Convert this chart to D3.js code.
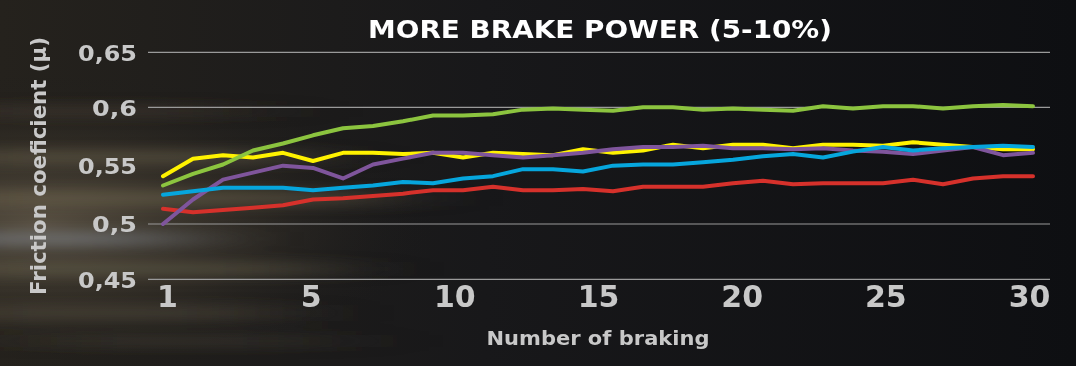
<!DOCTYPE html>
<html>
<head>
<meta charset="utf-8">
<script src="https://cdn.jsdelivr.net/npm/d3@7/dist/d3.min.js"></script>
<style>
  html, body { margin: 0; padding: 0; background: #121316; }
  svg { display: block; }
</style>
</head>
<body>
<svg id="chart" width="1076" height="366"></svg>
<script>
// ---------- data ----------
const brakings = d3.range(1, 31);
const xTickLabels = ["1", "5", "10", "15", "20", "25", "30"];
const yTicks = [0.45, 0.5, 0.55, 0.6, 0.65];
const yGridTicks = [0.45, 0.5, 0.6, 0.65];

const yellowSeries = [0.541, 0.556, 0.559, 0.557, 0.561, 0.554, 0.561, 0.561, 0.560, 0.561,
  0.557, 0.561, 0.560, 0.559, 0.564, 0.561, 0.563, 0.568, 0.565, 0.568,
  0.568, 0.565, 0.568, 0.568, 0.567, 0.570, 0.568, 0.566, 0.564, 0.564];
const greenSeries = [0.533, 0.543, 0.551, 0.563, 0.569, 0.576, 0.582, 0.584, 0.588, 0.593,
  0.593, 0.594, 0.598, 0.599, 0.598, 0.597, 0.600, 0.600, 0.598, 0.599,
  0.598, 0.597, 0.601, 0.599, 0.601, 0.601, 0.599, 0.601, 0.602, 0.601];
const blueSeries = [0.525, 0.528, 0.531, 0.531, 0.531, 0.529, 0.531, 0.533, 0.536, 0.535,
  0.539, 0.541, 0.547, 0.547, 0.545, 0.550, 0.551, 0.551, 0.553, 0.555,
  0.558, 0.560, 0.557, 0.562, 0.566, 0.563, 0.565, 0.566, 0.567, 0.566];
const purpleSeries = [0.500, 0.521, 0.538, 0.544, 0.550, 0.548, 0.539, 0.551, 0.556, 0.561,
  0.561, 0.559, 0.557, 0.559, 0.561, 0.564, 0.566, 0.566, 0.567, 0.565,
  0.565, 0.564, 0.565, 0.563, 0.562, 0.560, 0.563, 0.566, 0.559, 0.561];
const redSeries = [0.513, 0.510, 0.512, 0.514, 0.516, 0.521, 0.522, 0.524, 0.526, 0.529,
  0.529, 0.532, 0.529, 0.529, 0.530, 0.528, 0.532, 0.532, 0.532, 0.535,
  0.537, 0.534, 0.535, 0.535, 0.535, 0.538, 0.534, 0.539, 0.541, 0.541];

const seriesList = [
  { name: "red", values: redSeries, color: "#d6312b" },
  { name: "yellow", values: yellowSeries, color: "#fff200" },
  { name: "green", values: greenSeries, color: "#8cc43f" },
  { name: "purple", values: purpleSeries, color: "#7f559c" },
  { name: "blue", values: blueSeries, color: "#06a6dd" }
];

const titleText = "MORE BRAKE POWER (5-10%)";
const xTitle = "Number of braking";
const yTitle = "Friction coeficient (µ)";

// ---------- layout ----------
const W = 1076, H = 366;
const svg = d3.select("#chart");
const defs = svg.append("defs");

// background
const baseShade = defs.append("linearGradient").attr("id", "baseShade").attr("x1", 0).attr("x2", 1);
baseShade.append("stop").attr("offset", "0%").attr("stop-color", "#25221d");
baseShade.append("stop").attr("offset", "45%").attr("stop-color", "#18181a");
baseShade.append("stop").attr("offset", "100%").attr("stop-color", "#0e0f12");
svg.append("rect").attr("width", W).attr("height", H).attr("fill", "url(#baseShade)");

const glow = defs.append("radialGradient").attr("id", "glow")
  .attr("cx", 0.5).attr("cy", 0.5).attr("r", 0.5);
glow.append("stop").attr("offset", "0%").attr("stop-color", "#6b6150").attr("stop-opacity", 0.75);
glow.append("stop").attr("offset", "55%").attr("stop-color", "#3e382e").attr("stop-opacity", 0.45);
glow.append("stop").attr("offset", "100%").attr("stop-color", "#1a1a1a").attr("stop-opacity", 0);
svg.append("ellipse").attr("cx", 40).attr("cy", 225).attr("rx", 400).attr("ry", 150)
  .attr("fill", "url(#glow)");

const streakBlur = defs.append("filter").attr("id", "streak")
  .attr("x", "-50%").attr("y", "-50%").attr("width", "200%").attr("height", "200%");
streakBlur.append("feGaussianBlur").attr("stdDeviation", "55 6");

const streaks = svg.append("g").attr("filter", "url(#streak)");
[[ -60, 150, 360, 14, "#6f6550", 0.45 ], [ -60, 190, 440, 16, "#7a6e55", 0.4 ],
 [ -80, 232, 260, 14, "#8a92a0", 0.45 ], [ -60, 262, 380, 14, "#6c6350", 0.45 ],
 [ -60, 305, 330, 16, "#574f42", 0.45 ], [ 40, 335, 280, 12, "#4a4438", 0.4 ],
 [ -60, 105, 300, 12, "#4e473a", 0.4 ]]
  .forEach(s => streaks.append("rect").attr("x", s[0]).attr("y", s[1])
    .attr("width", s[2]).attr("height", s[3]).attr("fill", s[4]).attr("opacity", s[5]));

// ---------- scales ----------
const x = d3.scaleLinear().domain([1, 30]).range([163, 1033]);
const y = d3.scaleLinear().domain([0.45, 0.5, 0.6, 0.65]).range([279.3, 224, 107.3, 52.3]);
const xLabelPos = d3.scalePoint().domain(xTickLabels).range([167, 1029]);

const fmt = v => d3.format(".2~f")(v).replace(".", ",");
const fontFamily = "'DejaVu Sans', sans-serif";

// gridlines
svg.append("g").attr("class", "grid")
  .selectAll("line").data(yGridTicks).join("line")
  .attr("x1", 148).attr("x2", 1050)
  .attr("y1", d => y(d)).attr("y2", d => y(d))
  .attr("stroke", "#9a9a9a").attr("stroke-width", 1.2);

// y axis labels
const yAxis = d3.axisLeft(y).tickValues(yTicks).tickFormat(fmt).tickSize(0).tickPadding(0);
const yg = svg.append("g").attr("transform", "translate(137,0)").call(yAxis);
yg.select(".domain").remove();
yg.selectAll("text")
  .attr("fill", "#c8c8c8").attr("font-family", fontFamily).attr("font-weight", "bold")
  .attr("font-size", 22).attr("dy", "0.36em")
  .attr("textLength", d => String(fmt(d)).length === 3 ? 45 : 59)
  .attr("lengthAdjust", "spacingAndGlyphs");

// x axis labels
const xAxis = d3.axisBottom(xLabelPos).tickSize(0).tickPadding(0);
const xg = svg.append("g").attr("transform", "translate(0,307)").call(xAxis);
xg.select(".domain").remove();
xg.selectAll("text")
  .attr("fill", "#c8c8c8").attr("font-family", fontFamily).attr("font-weight", "bold")
  .attr("font-size", 30).attr("dy", 0).attr("y", 0);

// lines
const line = d3.line().x((d, i) => x(brakings[i])).y(d => y(d));
svg.append("g").selectAll("path").data(seriesList).join("path")
  .attr("d", d => line(d.values))
  .attr("fill", "none").attr("stroke", d => d.color)
  .attr("stroke-width", 4).attr("stroke-linejoin", "round").attr("stroke-linecap", "round");

// title
svg.append("text").attr("x", 600).attr("y", 38).attr("text-anchor", "middle")
  .attr("fill", "#ffffff").attr("font-family", fontFamily).attr("font-weight", "bold")
  .attr("font-size", 24).attr("textLength", 464).attr("lengthAdjust", "spacingAndGlyphs")
  .text(titleText);

// axis titles
svg.append("text").attr("x", 598).attr("y", 345).attr("text-anchor", "middle")
  .attr("fill", "#c8c8c8").attr("font-family", fontFamily).attr("font-weight", "bold")
  .attr("font-size", 20).attr("textLength", 223).attr("lengthAdjust", "spacingAndGlyphs")
  .text(xTitle);

svg.append("text")
  .attr("transform", "translate(46,166) rotate(-90)")
  .attr("text-anchor", "middle")
  .attr("fill", "#c8c8c8").attr("font-family", fontFamily).attr("font-weight", "bold")
  .attr("font-size", 22).attr("textLength", 258).attr("lengthAdjust", "spacingAndGlyphs")
  .text(yTitle);
</script>
</body>
</html>
